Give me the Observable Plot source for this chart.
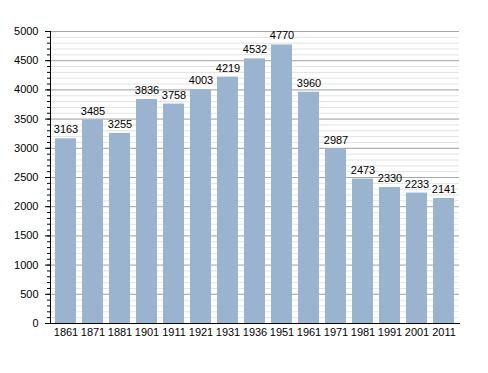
<!DOCTYPE html>
<html>
<head>
<meta charset="utf-8">
<script src="https://cdn.jsdelivr.net/npm/d3@7"></script>
<script src="https://cdn.jsdelivr.net/npm/@observablehq/plot@0.6"></script>
<style>
  html, body { margin: 0; padding: 0; background: #fff; }
  svg { display: block; }
</style>
</head>
<body>
<div id="chart"></div>
<script>
const years = ["1861","1871","1881","1901","1911","1921","1931","1936","1951","1961","1971","1981","1991","2001","2011"];
const population = [3163,3485,3255,3836,3758,4003,4219,4532,4770,3960,2987,2473,2330,2233,2141];
const majorTicks = [0,500,1000,1500,2000,2500,3000,3500,4000,4500,5000];
const minorTicks = d3.range(0, 5001, 100);

const data = years.map((y, i) => ({year: y, value: population[i]}));

const chart = Plot.plot({
  width: 488,
  height: 373,
  marginLeft: 50,
  marginRight: 29,
  marginTop: 31,
  marginBottom: 50,
  style: {fontFamily: "'Liberation Sans', Arial, sans-serif", fontSize: "11px", color: "#000", background: "#fff"},
  x: {domain: years, paddingInner: 0.24, paddingOuter: 0.02, label: null},
  y: {domain: [0, 5000], label: null},
  marks: [
    Plot.ruleY(minorTicks, {stroke: "#e2e2e2", strokeWidth: 1}),
    Plot.ruleY(majorTicks, {stroke: "#a8a8a8", strokeWidth: 1}),
    Plot.barY(data, {x: "year", y: "value", fill: "#9ab4d0"}),
    Plot.text(data, {x: "year", y: "value", text: d => String(d.value), dy: -9, fill: "#000", fontSize: 11}),
    Plot.axisY({ticks: minorTicks, tickSize: 3, tickFormat: () => "", stroke: "#000"}),
    Plot.axisY({ticks: majorTicks, tickSize: 5, tickPadding: 7, tickFormat: d => String(d), fontSize: 11, stroke: "#000", fill: "#000"}),
    Plot.axisX({tickSize: 0, tickPadding: 5, fontSize: 11, fill: "#000"}),
    Plot.frame({anchor: "left", stroke: "#000"}),
    Plot.frame({anchor: "bottom", stroke: "#000"})
  ]
});
document.getElementById("chart").appendChild(chart);
</script>
</body>
</html>
